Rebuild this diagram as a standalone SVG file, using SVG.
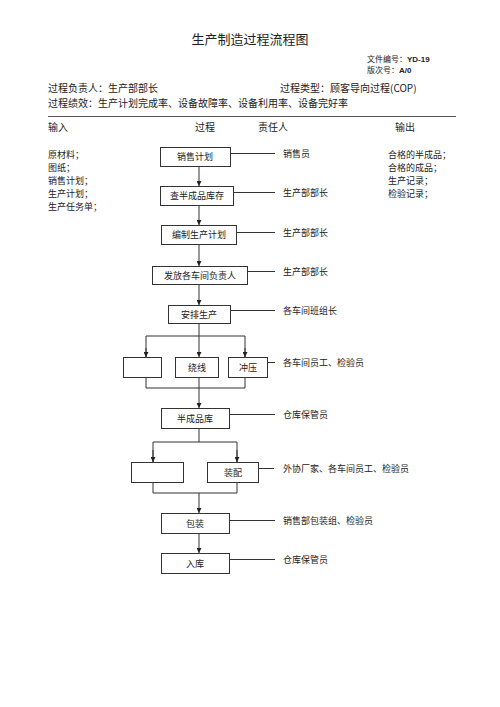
<svg xmlns="http://www.w3.org/2000/svg" width="500" height="707" viewBox="0 0 500 707">
<style>
text{font-family:"Noto Sans CJK SC","Liberation Serif",serif;fill:#222;}
.t{font-size:9px;}
.h{font-size:10px;}
.c{text-anchor:middle;}
.box{fill:#fff;stroke:#333;stroke-width:1;}
.ln{fill:none;stroke:#333;stroke-width:1;}
</style>
<defs>
<marker id="ar" viewBox="0 0 8 8" refX="8" refY="4" markerWidth="5" markerHeight="5" orient="auto" markerUnits="userSpaceOnUse">
<path d="M0,0 L8,4 L0,8 z" fill="#222"/>
</marker>
</defs>
<rect width="500" height="707" fill="#fff"/>
<g id="header">
<text x="250" y="44" class="c" style="font-size:13px">生产制造过程流程图</text>
<text x="367" y="62" style="font-size:8px">文件编号：<tspan style="font-family:'Liberation Sans',sans-serif;font-weight:bold">YD-19</tspan></text>
<text x="367" y="73" style="font-size:8px">版次号：<tspan style="font-family:'Liberation Sans',sans-serif;font-weight:bold">A/0</tspan></text>
<text x="48" y="92" class="h">过程负责人：生产部部长</text>
<text x="280" y="92" class="h">过程类型：顾客导向过程(COP)</text>
<text x="48" y="106.5" class="h">过程绩效：生产计划完成率、设备故障率、设备利用率、设备完好率</text>
<line x1="48" y1="116.5" x2="456" y2="116.5" stroke="#555" stroke-width="1.2"/>
<text x="48" y="131" class="h">输入</text>
<text x="195" y="131" class="h">过程</text>
<text x="258" y="131" class="h">责任人</text>
<text x="395" y="131" class="h">输出</text>
</g>
<g id="inputs">
<text x="48" y="158" class="t">原材料；</text>
<text x="48" y="171" class="t">图纸；</text>
<text x="48" y="184" class="t">销售计划；</text>
<text x="48" y="197" class="t">生产计划；</text>
<text x="48" y="210" class="t">生产任务单；</text>
</g>
<g id="outputs">
<text x="388" y="158" class="t">合格的半成品；</text>
<text x="388" y="171" class="t">合格的成品；</text>
<text x="388" y="184" class="t">生产记录；</text>
<text x="388" y="197" class="t">检验记录；</text>
</g>
<g id="connectors">
<line class="ln" x1="199" y1="166" x2="199" y2="186" marker-end="url(#ar)"/>
<line class="ln" x1="199" y1="205" x2="199" y2="225" marker-end="url(#ar)"/>
<line class="ln" x1="199" y1="244" x2="199" y2="266" marker-end="url(#ar)"/>
<line class="ln" x1="199" y1="284" x2="199" y2="305" marker-end="url(#ar)"/>
<line class="ln" x1="199" y1="323" x2="199" y2="357" marker-end="url(#ar)"/>
<polyline class="ln" points="146,357 146,336 245,336 245,357"/>
<line class="ln" x1="146" y1="348" x2="146" y2="357" marker-end="url(#ar)"/>
<line class="ln" x1="245" y1="348" x2="245" y2="357" marker-end="url(#ar)"/>
<polyline class="ln" points="146,377 146,388 245,388 245,377"/>
<line class="ln" x1="199" y1="377" x2="199" y2="408" marker-end="url(#ar)"/>
<polyline class="ln" points="153,462 153,442 237,442 237,462"/>
<line class="ln" x1="199" y1="428" x2="199" y2="442"/>
<line class="ln" x1="153" y1="450" x2="153" y2="462" marker-end="url(#ar)"/>
<line class="ln" x1="237" y1="450" x2="237" y2="462" marker-end="url(#ar)"/>
<polyline class="ln" points="153,482 153,493 237,493 237,482"/>
<line class="ln" x1="199" y1="493" x2="199" y2="513" marker-end="url(#ar)"/>
<line class="ln" x1="199" y1="533" x2="199" y2="553" marker-end="url(#ar)"/>
<line class="ln" x1="230" y1="153.5" x2="275" y2="153.5"/>
<line class="ln" x1="233" y1="192.5" x2="275" y2="192.5"/>
<line class="ln" x1="236" y1="232.5" x2="275" y2="232.5"/>
<line class="ln" x1="248" y1="271.5" x2="275" y2="271.5"/>
<line class="ln" x1="230" y1="310.5" x2="275" y2="310.5"/>
<line class="ln" x1="267" y1="362.5" x2="275" y2="362.5"/>
<line class="ln" x1="229" y1="414.5" x2="275" y2="414.5"/>
<line class="ln" x1="258" y1="468.5" x2="274" y2="468.5"/>
<line class="ln" x1="229" y1="520.5" x2="275" y2="520.5"/>
<line class="ln" x1="229" y1="559.5" x2="275" y2="559.5"/>
</g>
<g id="n1"><rect class="box" x="160.5" y="147.5" width="70" height="19"/><text x="195" y="160" class="t c">销售计划</text></g>
<g id="n2"><rect class="box" x="160.5" y="186.5" width="73" height="19"/><text x="197" y="199" class="t c">查半成品库存</text></g>
<g id="n3"><rect class="box" x="161.5" y="225.5" width="75" height="19"/><text x="199" y="238" class="t c">编制生产计划</text></g>
<g id="n4"><rect class="box" x="152.5" y="266.5" width="95" height="18"/><text x="200" y="279" class="t c">发放各车间负责人</text></g>
<g id="n5"><rect class="box" x="168.5" y="305.5" width="62" height="18"/><text x="199" y="318" class="t c">安排生产</text></g>
<g id="n6a"><rect class="box" x="123.5" y="357.5" width="38" height="20"/></g>
<g id="n6b"><rect class="box" x="175.5" y="357.5" width="43" height="20"/><text x="197" y="371" class="t c">绕线</text></g>
<g id="n6c"><rect class="box" x="228.5" y="357.5" width="39" height="20"/><text x="248" y="371" class="t c">冲压</text></g>
<g id="n7"><rect class="box" x="161.5" y="408.5" width="68" height="20"/><text x="195" y="422" class="t c">半成品库</text></g>
<g id="n8a"><rect class="box" x="131.5" y="462.5" width="52" height="20"/></g>
<g id="n8b"><rect class="box" x="207.5" y="462.5" width="51" height="20"/><text x="233" y="476" class="t c">装配</text></g>
<g id="n9"><rect class="box" x="161.5" y="513.5" width="68" height="20"/><text x="195" y="527" class="t c">包装</text></g>
<g id="n10"><rect class="box" x="161.5" y="553.5" width="68" height="20"/><text x="195" y="567" class="t c">入库</text></g>
<g id="responsible">
<text x="283" y="157" class="t">销售员</text>
<text x="283" y="196" class="t">生产部部长</text>
<text x="283" y="236" class="t">生产部部长</text>
<text x="283" y="275" class="t">生产部部长</text>
<text x="283" y="314" class="t">各车间班组长</text>
<text x="283" y="366" class="t">各车间员工、检验员</text>
<text x="283" y="418" class="t">仓库保管员</text>
<text x="283" y="472" class="t">外协厂家、各车间员工、检验员</text>
<text x="283" y="524" class="t">销售部包装组、检验员</text>
<text x="283" y="563" class="t">仓库保管员</text>
</g>
</svg>
